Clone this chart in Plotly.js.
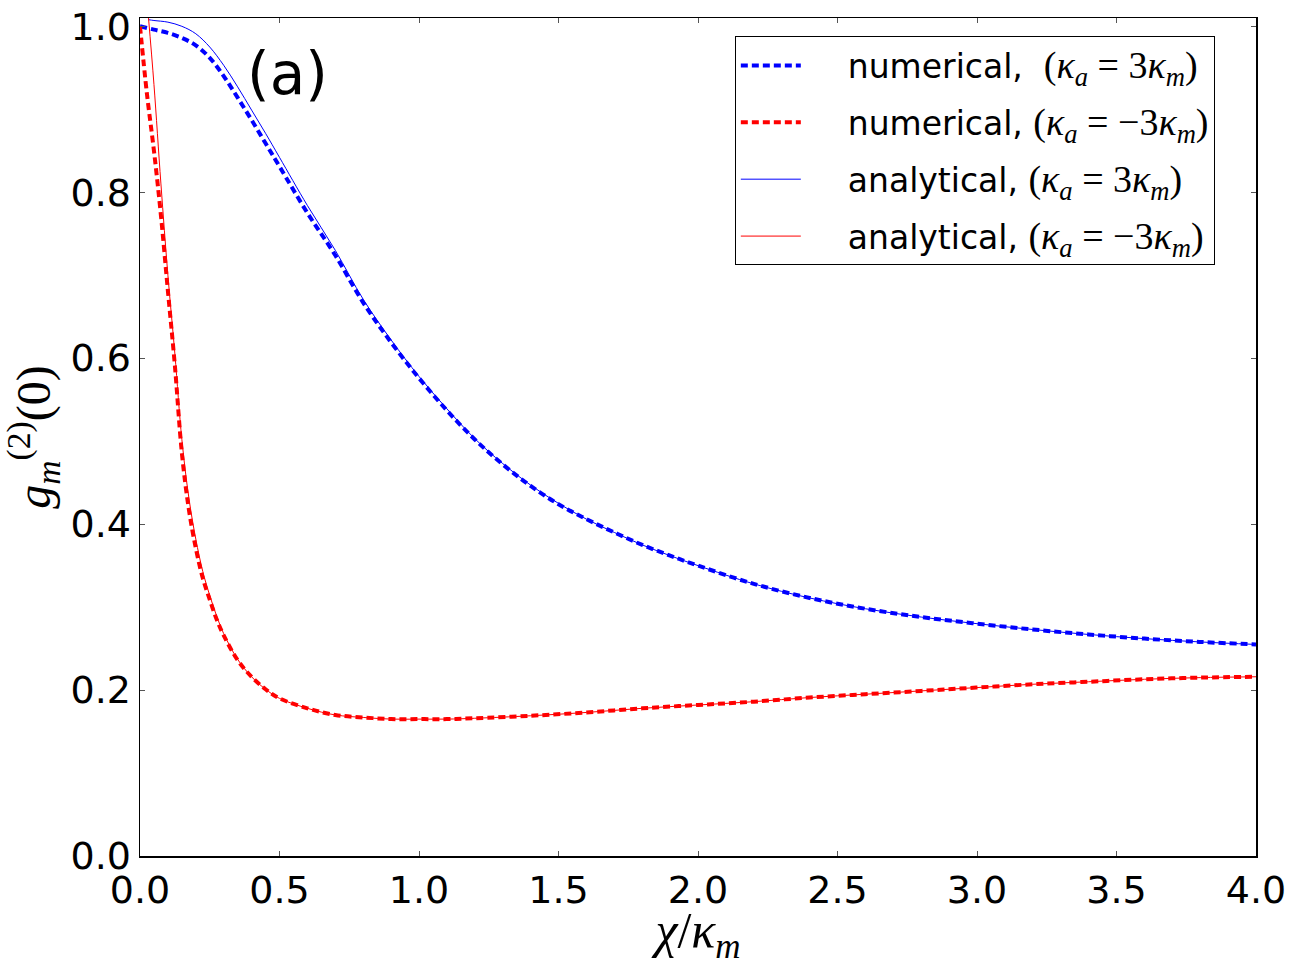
<!DOCTYPE html>
<html>
<head>
<meta charset="utf-8">
<script src="https://cdn.plot.ly/plotly-3.0.1.min.js"></script>
<style>
  html, body { margin: 0; padding: 0; background: #ffffff; }
  #chart { width: 1292px; height: 966px; }
</style>
</head>
<body>
<div id="chart"></div>
<script>
// numerical, kappa_a = 3 kappa_m
const xNumBlue = [0, 0.05, 0.1, 0.15, 0.2, 0.25, 0.3, 0.35, 0.4, 0.45, 0.5, 0.6, 0.7, 0.8, 0.9, 1.0,
  1.1, 1.2, 1.3, 1.4, 1.5, 1.6, 1.7, 1.8, 1.9, 2.0, 2.2, 2.4, 2.6, 2.8, 3.0, 3.2, 3.4, 3.6, 3.8, 4.0];
const yNumBlue = [1.000, 0.996, 0.992, 0.986, 0.977, 0.962, 0.940, 0.914, 0.887, 0.859, 0.831, 0.775, 0.724, 0.667, 0.619, 0.576,
  0.537, 0.502, 0.472, 0.446, 0.424, 0.406, 0.390, 0.375, 0.362, 0.350, 0.328, 0.311, 0.298, 0.288, 0.280, 0.273, 0.267, 0.262, 0.258, 0.255];

// numerical, kappa_a = -3 kappa_m
const xNumRed = [0, 0.025, 0.05, 0.075, 0.1, 0.125, 0.15, 0.175, 0.2, 0.225, 0.25, 0.275, 0.3, 0.35, 0.4, 0.45, 0.5,
  0.6, 0.7, 0.8, 0.9, 1.0, 1.1, 1.2, 1.4, 1.6, 1.8, 2.0, 2.2, 2.4, 2.6, 2.8, 3.0, 3.2, 3.4, 3.6, 3.8, 4.0];
const yNumRed = [1.000, 0.918, 0.850, 0.772, 0.681, 0.591, 0.486, 0.418, 0.371, 0.335, 0.309, 0.285, 0.266, 0.236, 0.216, 0.201, 0.190,
  0.178, 0.170, 0.167, 0.165, 0.165, 0.165, 0.166, 0.169, 0.173, 0.178, 0.182, 0.186, 0.191, 0.195, 0.199, 0.203, 0.207, 0.210, 0.213, 0.215, 0.216];

// analytical, kappa_a = 3 kappa_m
const xAnaBlue = [0.03, 0.05, 0.1, 0.15, 0.2, 0.25, 0.3, 0.35, 0.4, 0.45, 0.5, 0.6, 0.7, 0.8, 0.9, 1.0,
  1.1, 1.2, 1.3, 1.4, 1.5, 1.6, 1.7, 1.8, 1.9, 2.0, 2.2, 2.4, 2.6, 2.8, 3.0, 3.2, 3.4, 3.6, 3.8, 4.0];
const yAnaBlue = [1.008, 1.007, 1.005, 1.000, 0.991, 0.975, 0.953, 0.927, 0.899, 0.871, 0.842, 0.784, 0.730, 0.671, 0.622, 0.578,
  0.539, 0.503, 0.473, 0.447, 0.425, 0.406, 0.390, 0.375, 0.362, 0.350, 0.328, 0.311, 0.298, 0.288, 0.280, 0.273, 0.267, 0.262, 0.258, 0.255];

// analytical, kappa_a = -3 kappa_m
const xAnaRed = [0.03, 0.05, 0.075, 0.1, 0.125, 0.15, 0.175, 0.2, 0.225, 0.25, 0.275, 0.3, 0.35, 0.4, 0.45, 0.5,
  0.6, 0.7, 0.8, 0.9, 1.0, 1.1, 1.2, 1.4, 1.6, 1.8, 2.0, 2.2, 2.4, 2.6, 2.8, 3.0, 3.2, 3.4, 3.6, 3.8, 4.0];
const yAnaRed = [1.012, 0.930, 0.810, 0.700, 0.605, 0.502, 0.432, 0.382, 0.343, 0.314, 0.289, 0.268, 0.237, 0.216, 0.201, 0.190,
  0.178, 0.170, 0.167, 0.165, 0.165, 0.165, 0.166, 0.169, 0.173, 0.178, 0.182, 0.186, 0.191, 0.195, 0.199, 0.203, 0.207, 0.210, 0.213, 0.215, 0.216];

const xTicks = [0, 0.5, 1.0, 1.5, 2.0, 2.5, 3.0, 3.5, 4.0];
const yTicks = [0, 0.2, 0.4, 0.6, 0.8, 1.0];

const SANS = 'DejaVu Sans, sans-serif';
const SERIF = 'Liberation Serif, serif';
const NB = '\u00a0';
const math = (s) => `<span style="font-family:${SERIF};font-size:38px">${s}</span>`;
const kappa = (sub) => `<i>κ</i><sub><i>${sub}</i></sub>`;
const cond = (k) => math(`(${kappa('a')}${NB}=${NB}${k}${kappa('m')})`);

const names = [
  NB.repeat(4) + 'numerical,' + NB.repeat(2) + cond('3'),
  NB.repeat(4) + 'numerical,' + NB + cond('−3'),
  NB.repeat(4) + 'analytical,' + NB + cond('3'),
  NB.repeat(4) + 'analytical,' + NB + cond('−3')
];

const traces = [
  { x: xNumBlue, y: yNumBlue, name: names[0], legendgroup: 'g1', mode: 'lines',
    line: { color: '#0000ff', width: 4, dash: '7px,4px', shape: 'spline' } },
  { x: xNumRed, y: yNumRed, name: names[1], legendgroup: 'g2', mode: 'lines',
    line: { color: '#ff0000', width: 4, dash: '7px,4px', shape: 'spline' } },
  { x: xAnaBlue, y: yAnaBlue, name: names[2], legendgroup: 'g3', mode: 'lines',
    line: { color: '#0000ff', width: 1, shape: 'spline' } },
  { x: xAnaRed, y: yAnaRed, name: names[3], legendgroup: 'g4', mode: 'lines',
    line: { color: '#ff0000', width: 1, shape: 'spline' } }
];

const axisCommon = {
  showgrid: false,
  zeroline: false,
  showline: true,
  linecolor: '#000000',
  linewidth: 1.5,
  mirror: 'allticks',
  ticks: 'inside',
  ticklen: 5,
  tickwidth: 1,
  tickcolor: '#555555',
  tickformat: '.1f',
  tickfont: { family: SANS, size: 38, color: '#000000' }
};

const layout = {
  width: 1292,
  height: 966,
  margin: { l: 140, r: 36, t: 18, b: 110 },
  paper_bgcolor: '#ffffff',
  plot_bgcolor: '#ffffff',
  showlegend: true,
  legend: {
    x: 0.533, y: 0.978, xanchor: 'left', yanchor: 'top',
    bgcolor: '#ffffff', bordercolor: '#000000', borderwidth: 1,
    traceorder: 'grouped', tracegroupgap: 11,
    itemwidth: 60,
    font: { family: SANS, size: 33, color: '#000000' }
  },
  xaxis: Object.assign({}, axisCommon, {
    range: [0, 4],
    tickvals: xTicks,
    title: {
      text: '<i>χ</i>/<i>κ</i><sub><i>m</i></sub>',
      font: { family: SERIF, size: 50, color: '#000000' },
      standoff: 18
    }
  }),
  yaxis: Object.assign({}, axisCommon, {
    range: [0, 1.01],
    tickvals: yTicks,
    title: {
      text: '<i>g</i><sub><i>m</i></sub><sup>(2)</sup>(0)',
      font: { family: SERIF, size: 48, color: '#000000' },
      standoff: 12
    }
  }),
  annotations: [
    { x: 0.527, y: 0.943, xref: 'x', yref: 'y', text: '(a)', showarrow: false,
      font: { family: SANS, size: 58, color: '#000000' } }
  ]
};

Plotly.newPlot('chart', traces, layout, { displayModeBar: false, staticPlot: true });
</script>
</body>
</html>
